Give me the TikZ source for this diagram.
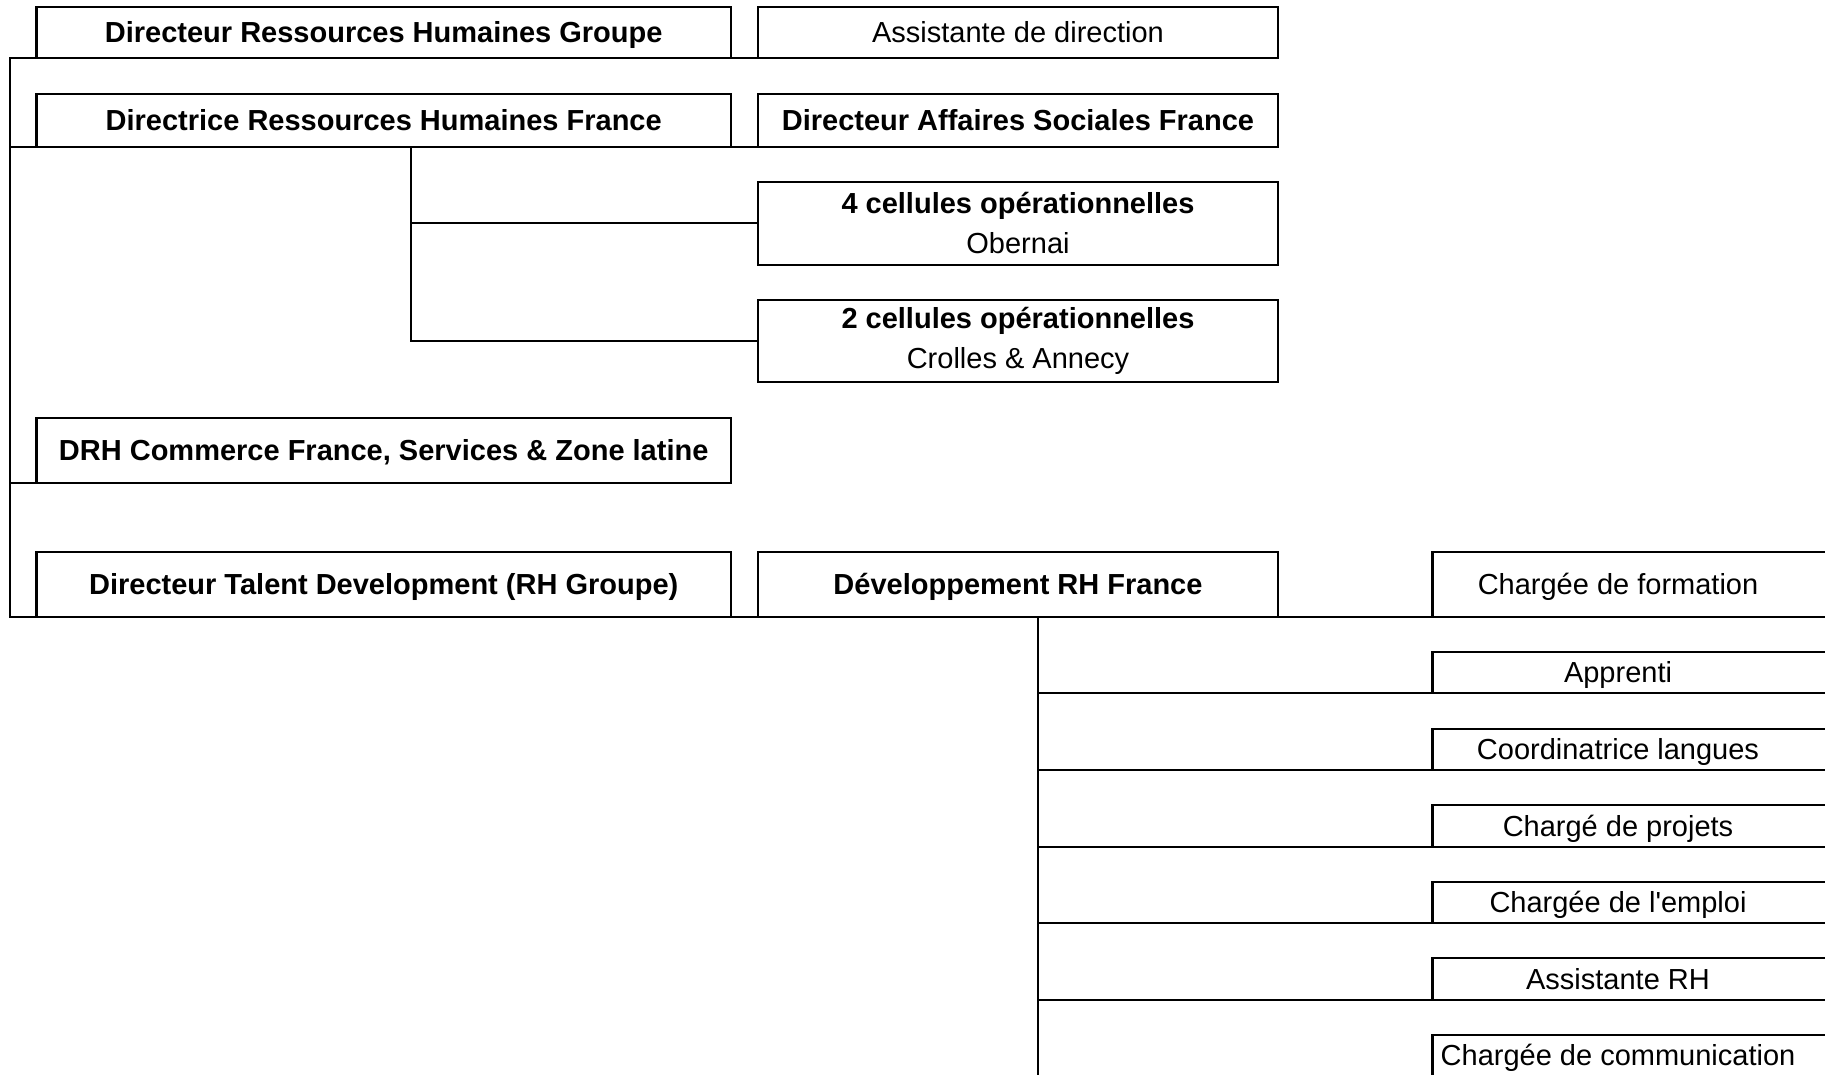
\documentclass[tikz,border=0pt]{standalone}
\usepackage{fontspec}
\setmainfont{Liberation Sans}[Ligatures=TeXOff]
% right-hand cells: text centred in the visible part, frame running off the page
\newcommand{\rcell}[1]{\makebox[371pt]{#1}\hspace*{49pt}}
\begin{document}
\begin{tikzpicture}[x=1pt,y=-1pt,line width=2.1pt,
  cell/.style={draw,rectangle,inner sep=0pt,outer sep=0pt,anchor=north west,
    font=\fontsize{29}{40}\selectfont,text height=20.8pt,text depth=0pt},
  boldcell/.style={cell,font=\fontsize{29}{40}\selectfont\bfseries},
  wide/.style={minimum width=694.5pt},
  mid/.style={minimum width=520pt},
  twoline/.style={draw,rectangle,inner sep=0pt,outer sep=0pt,anchor=north west,align=center,
    minimum width=520pt,font=\fontsize{29}{40}\selectfont},
  rcellbox/.style={cell,minimum width=420pt,minimum height=41.6pt}
]
\useasboundingbox (0,0) rectangle (1825,1074);
\clip (0,0) rectangle (1825,1074);

% first rows
\node[boldcell,wide,minimum height=51.6pt] (A) at (36.5,6.7) {Directeur Ressources Humaines Groupe};
\node[cell,mid,minimum height=51.6pt] (B) at (758,6.7) {Assistante de direction};
\node[boldcell,wide,minimum height=52.4pt] (C) at (36.5,94.3) {Directrice Ressources Humaines France};
\node[boldcell,mid,minimum height=52.4pt] (D) at (758,94.3) {Directeur Affaires Sociales France};

% operational cells
\node[twoline,minimum height=83.3pt] (E) at (758,181.7) {\textbf{4 cellules opérationnelles}\\Obernai};
\node[twoline,minimum height=82pt] (F) at (758,300) {\textbf{2 cellules opérationnelles}\\Crolles \& Annecy};

% lower rows
\node[boldcell,wide,minimum height=65pt] (G) at (36.5,417.7) {DRH Commerce France, Services \& Zone latine};
\node[boldcell,wide,minimum height=65pt] (H) at (36.5,551.7) {Directeur Talent Development (RH Groupe)};
\node[boldcell,mid,minimum height=65pt] (I) at (758,551.7) {Développement RH France};
\node[cell,minimum width=420pt,minimum height=65pt] (J) at (1432.5,551.7) {\rcell{Chargée de formation}};

% team of the HR development
\node[rcellbox] (K1) at (1432.5,651.7) {\rcell{Apprenti}};
\node[rcellbox] (K2) at (1432.5,728.7) {\rcell{Coordinatrice langues}};
\node[rcellbox] (K3) at (1432.5,805.2) {\rcell{Chargé de projets}};
\node[rcellbox] (K4) at (1432.5,881.7) {\rcell{Chargée de l'emploi}};
\node[rcellbox] (K5) at (1432.5,958.2) {\rcell{Assistante RH}};
\node[rcellbox] (K6) at (1432.5,1034.7) {\rcell{Chargée de communication}};

% main spine
\coordinate (sp) at (10,58.3);
\draw (A.south west) -- (sp) -- (sp |- H.south) -- (H.south west);
\draw (A.south east) -- (B.south west);
\draw (sp |- C.south) -- (C.south west);
\draw (C.south east) -- (D.south west);
\draw (sp |- G.south) -- (G.south west);
\draw (H.south east) -- (I.south west);
\draw (I.south east) -- (J.south west);

% operational cells under the French HR director
\coordinate (cs) at (411,146.7);
\draw (cs) |- (E.west);
\draw (cs) |- (F.west);

% HR development team
\coordinate (ds) at (1038,616.7);
\draw (ds) |- (K1.south west);
\draw (ds) |- (K2.south west);
\draw (ds) |- (K3.south west);
\draw (ds) |- (K4.south west);
\draw (ds) |- (K5.south west);
\draw (ds) |- (K6.south west);
\end{tikzpicture}
\end{document}
